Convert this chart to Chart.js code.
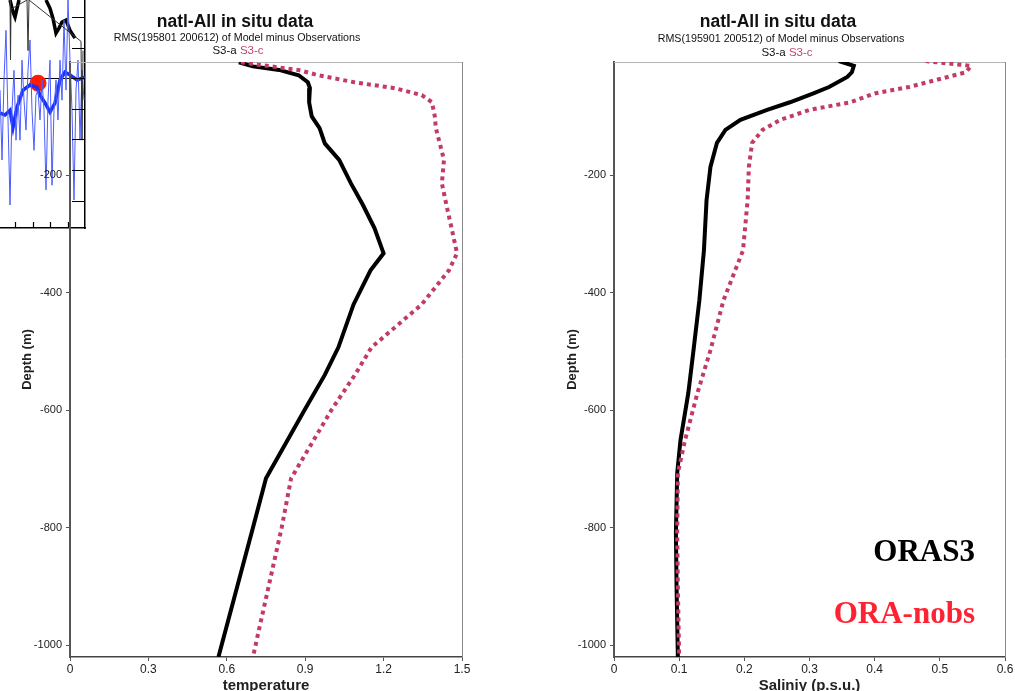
<!DOCTYPE html>
<html>
<head>
<meta charset="utf-8">
<script src="https://cdn.jsdelivr.net/npm/chart.js@4/dist/chart.umd.min.js"></script>
<style>
  html, body { margin: 0; padding: 0; background: #fff; }
  body { width: 1015px; height: 691px; position: relative; overflow: hidden; font-family: "Liberation Sans", Arial, sans-serif; }
  .box { position: absolute; }
  .t { position: absolute; white-space: nowrap; transform: translate(-50%, -50%); color: #111; z-index: 3; }
  .title { font-weight: bold; font-size: 17.5px; }
  .sub { font-size: 10.7px; }
  .leg { font-size: 11.5px; }
  .tag { position: absolute; white-space: nowrap; z-index: 3; font-family: "Liberation Serif", "Times New Roman", serif; font-weight: bold; font-size: 31px; transform: translate(-100%, -50%); }
</style>
</head>
<body>

<div class="box" style="left:0;top:0;width:86px;height:229px;z-index:0;background:#fff;">
  <canvas id="inset" width="86" height="229"></canvas>
</div>
<div class="box" style="left:0;top:0;width:500px;height:691px;z-index:1;">
  <canvas id="tempChart" width="500" height="691"></canvas>
</div>
<div class="box" style="left:545px;top:0;width:470px;height:691px;z-index:1;">
  <canvas id="salChart" width="470" height="691"></canvas>
</div>

<div class="t title" style="left:235px;top:21px;">natl-All in situ data</div>
<div class="t sub" style="left:237px;top:37px;">RMS(195801 200612) of Model minus Observations</div>
<div class="t leg" style="left:238px;top:50px;"><span>S3-a</span> <span style="color:#c0466e">S3-c</span></div>

<div class="t title" style="left:778px;top:21px;">natl-All in situ data</div>
<div class="t sub" style="left:781px;top:38px;">RMS(195901 200512) of Model minus Observations</div>
<div class="t leg" style="left:787px;top:52px;"><span>S3-a</span> <span style="color:#c0466e">S3-c</span></div>

<div class="tag" style="left:975px;top:551px;color:#000;">ORAS3</div>
<div class="tag" style="left:975px;top:613px;color:#ff2233;">ORA-nobs</div>

<script>
// --- temperature profile (left) ---
const tempDepth = [-8, -15, -21, -30, -42, -52, -64, -76, -100, -120, -146, -174, -214, -250, -290, -333, -362, -420, -493, -540, -600, -716, -800, -900, -1020];
const tempS3a   = [0.646, 0.70, 0.80, 0.875, 0.91, 0.918, 0.915, 0.915, 0.925, 0.955, 0.975, 1.03, 1.075, 1.12, 1.165, 1.20, 1.15, 1.085, 1.027, 0.975, 0.897, 0.75, 0.70, 0.64, 0.568];
const tempS3c   = [0.654, 0.77, 0.873, 0.95, 1.088, 1.242, 1.346, 1.385, 1.396, 1.40, 1.415, 1.431, 1.423, 1.44, 1.46, 1.481, 1.45, 1.346, 1.154, 1.09, 1.0, 0.846, 0.81, 0.76, 0.70];
const tempTicks = [0, 0.3, 0.6, 0.9, 1.2, 1.5];

// --- salinity profile (right) ---
const salDepth = [-6, -14, -25, -33, -50, -61, -76, -89, -106, -123, -145, -186, -243, -328, -413, -498, -571, -651, -707, -809, -900, -1020];
const salS3a   = [0.345, 0.368, 0.365, 0.358, 0.33, 0.306, 0.27, 0.235, 0.194, 0.171, 0.158, 0.148, 0.142, 0.138, 0.131, 0.122, 0.114, 0.102, 0.097, 0.095, 0.096, 0.098];
const salS3c   = [0.478, 0.548, 0.54, 0.512, 0.453, 0.40, 0.363, 0.30, 0.255, 0.228, 0.212, 0.207, 0.205, 0.198, 0.168, 0.148, 0.128, 0.109, 0.098, 0.097, 0.098, 0.10];
const salTicks = [0, 0.1, 0.2, 0.3, 0.4, 0.5, 0.6];

const depthTicks = [-1000, -800, -600, -400, -200];

// --- clipped inset (top-left corner) ---
const insetThickX    = [0, 5, 10, 13, 17, 23, 30, 37, 40, 45, 50, 55, 60, 65, 70, 77, 82, 85];
const insetThickBlue = [-76, -80, -70, -107, -63, -26, -15, -20, -37, -54, -74, -54, -4, 13, 7, -4, 0, 2];
const insetThinX     = [0, 2, 4, 6, 8, 10, 12, 14, 16, 18, 20, 22, 24, 26, 28, 30, 32, 34, 36, 38, 40, 42, 44, 46, 48, 50, 52, 54, 56, 58, 60, 62, 64, 66, 68, 70, 72, 74, 76, 78, 80, 82, 84];
const insetThinBlue  = [-26, -178, -4, 104, -91, -276, -70, 17, -135, -37, -135, 39, -48, -113, 17, 83, -70, -157, -37, -26, -91, -4, -70, -243, -48, 39, -233, -70, -4, -91, 39, -48, 126, -26, 170, 39, -70, -265, -26, 39, -135, 17, -48];
const insetBlackX    = [10, 13, 15, 17, 19, null, 46, 50, 53, 56, 59, 62, 66, 70, 75];
const insetBlack     = [170, 144, 133, 152, 170, null, 170, 152, 130, 98, 109, 122, 126, 104, 87];
const insetThinBlackX = [10, 10.5, 11, 27, 28, 29, 81, 82, 83];
const insetThinBlack  = [170, 40, 150, 170, 60, 170, 80, -135, 60];
const insetDot = [{ x: 38, y: -11 }];
const insetXTicks = [15, 32.5, 50, 67.5];

const toPoints = (xs, ys) => xs.map((v, i) => (v === null ? { x: null, y: null } : { x: v, y: ys[i] }));

const frame = {
    id: 'frame',
    beforeDatasetsDraw(chart) {
        const { ctx, chartArea: a } = chart;
        ctx.save();
        ctx.lineWidth = 1;
        ctx.strokeStyle = '#b4b4b4';
        ctx.beginPath();
        ctx.moveTo(a.left, a.top + 0.5);
        ctx.lineTo(a.right + 0.5, a.top + 0.5);
        ctx.stroke();
        ctx.strokeStyle = '#8a8a8a';
        ctx.beginPath();
        ctx.moveTo(a.right + 0.5, a.top);
        ctx.lineTo(a.right + 0.5, a.bottom);
        ctx.stroke();
        ctx.restore();
    }
};

function makeProfile(id, depth, s3a, s3c, xMax, xTicks, xTitle, yWidth, padRight) {
    new Chart(document.getElementById(id), {
        type: 'scatter',
        data: {
            datasets: [
                {
                    label: 'S3-c',
                    data: toPoints(s3c, depth),
                    showLine: true,
                    borderColor: '#c23b63',
                    borderWidth: 4,
                    borderDash: [4, 4],
                    pointRadius: 0,
                    tension: 0
                },
                {
                    label: 'S3-a',
                    data: toPoints(s3a, depth),
                    showLine: true,
                    borderColor: '#000',
                    borderWidth: 4,
                    pointRadius: 0,
                    tension: 0
                }
            ]
        },
        options: {
            responsive: false,
            animation: false,
            layout: { autoPadding: false, padding: { top: 62, right: padRight, bottom: -4, left: 0 } },
            plugins: { legend: { display: false }, tooltip: { enabled: false } },
            scales: {
                x: {
                    type: 'linear',
                    min: 0,
                    max: xMax,
                    afterBuildTicks: s => { s.ticks = xTicks.map(v => ({ value: v })); },
                    afterFit: s => { s.height = 38; },
                    grid: { drawOnChartArea: false, tickLength: 4, color: '#555' },
                    border: { color: '#444', width: 1.5 },
                    ticks: { color: '#222', font: { size: 12, family: 'Liberation Sans' }, padding: 1, maxRotation: 0, callback: v => String(v) },
                    title: { display: true, text: xTitle, color: '#222', font: { size: 15, weight: 'bold', family: 'Liberation Sans' }, padding: { top: 0, bottom: 0 } }
                },
                y: {
                    type: 'linear',
                    min: -1020,
                    max: -7.5,
                    afterBuildTicks: s => { s.ticks = depthTicks.map(v => ({ value: v })); },
                    afterFit: s => { s.width = yWidth; },
                    grid: { drawOnChartArea: false, tickLength: 4, color: '#555' },
                    border: { color: '#555', width: 2 },
                    ticks: { color: '#222', font: { size: 11, family: 'Liberation Sans' }, padding: 4, callback: v => String(v) },
                    title: { display: true, text: 'Depth (m)', color: '#222', font: { size: 13, weight: 'bold', family: 'Liberation Sans' }, padding: { top: 20, bottom: 0 } }
                }
            }
        },
        plugins: [frame]
    });
}

makeProfile('tempChart', tempDepth, tempS3a, tempS3c, 1.5, tempTicks, 'temperature', 70, 38);
makeProfile('salChart', salDepth, salS3a, salS3c, 0.6, salTicks, 'Saliniy (p.s.u.)', 69, 10);

const inwardTicks = {
    id: 'inwardTicks',
    afterDraw(chart) {
        const { ctx, chartArea: a, scales: { x, y } } = chart;
        ctx.save();
        ctx.strokeStyle = '#000';
        ctx.lineWidth = 1.2;
        ctx.beginPath();
        y.ticks.forEach(t => {
            const p = Math.round(y.getPixelForValue(t.value)) + 0.5;
            ctx.moveTo(a.right - 13, p);
            ctx.lineTo(a.right, p);
        });
        x.ticks.forEach(t => {
            const p = Math.round(x.getPixelForValue(t.value)) + 0.5;
            ctx.moveTo(p, a.bottom - 6);
            ctx.lineTo(p, a.bottom);
        });
        ctx.stroke();
        ctx.restore();
    }
};

const flatAxis = s => {
    if (s.isHorizontal()) s.height = 0; else s.width = 0;
    s.paddingTop = 0; s.paddingBottom = 0; s.paddingLeft = 0; s.paddingRight = 0;
};

new Chart(document.getElementById('inset'), {
    type: 'scatter',
    data: {
        datasets: [
            { data: toPoints(insetThinBlackX, insetThinBlack), showLine: true, borderColor: '#333', borderWidth: 1, pointRadius: 0 },
            { data: toPoints(insetThinX, insetThinBlue), showLine: true, borderColor: '#4a5cff', borderWidth: 1, pointRadius: 0 },
            { data: toPoints(insetBlackX, insetBlack), showLine: true, spanGaps: false, borderColor: '#000', borderWidth: 3.5, pointRadius: 0 },
            { data: toPoints(insetThickX, insetThickBlue), showLine: true, borderColor: '#1530ff', borderWidth: 3.5, pointRadius: 0 },
            { data: insetDot, pointRadius: 8, pointBackgroundColor: '#ff1a00', pointBorderColor: '#ff1a00' }
        ]
    },
    options: {
        responsive: false,
        animation: false,
        layout: { autoPadding: false, padding: { top: 0, right: 1, bottom: 1, left: 0 } },
        plugins: { legend: { display: false }, tooltip: { enabled: false } },
        scales: {
            x: {
                type: 'linear',
                min: 0,
                max: 85,
                afterBuildTicks: s => { s.ticks = insetXTicks.map(v => ({ value: v })); },
                afterFit: flatAxis,
                grid: { display: false, drawTicks: false },
                border: { display: true, color: '#000', width: 1.5 },
                ticks: { display: false }
            },
            y: {
                type: 'linear',
                position: 'right',
                min: -326,
                max: 170,
                afterFit: flatAxis,
                ticks: { stepSize: 200 / 3, includeBounds: false, display: false },
                grid: { drawTicks: false, color: c => (Math.round(c.tick.value) === 0 ? '#000' : 'rgba(0,0,0,0)') },
                border: { display: true, color: '#000', width: 1.5 }
            }
        }
    },
    plugins: [inwardTicks]
});
</script>
</body>
</html>
